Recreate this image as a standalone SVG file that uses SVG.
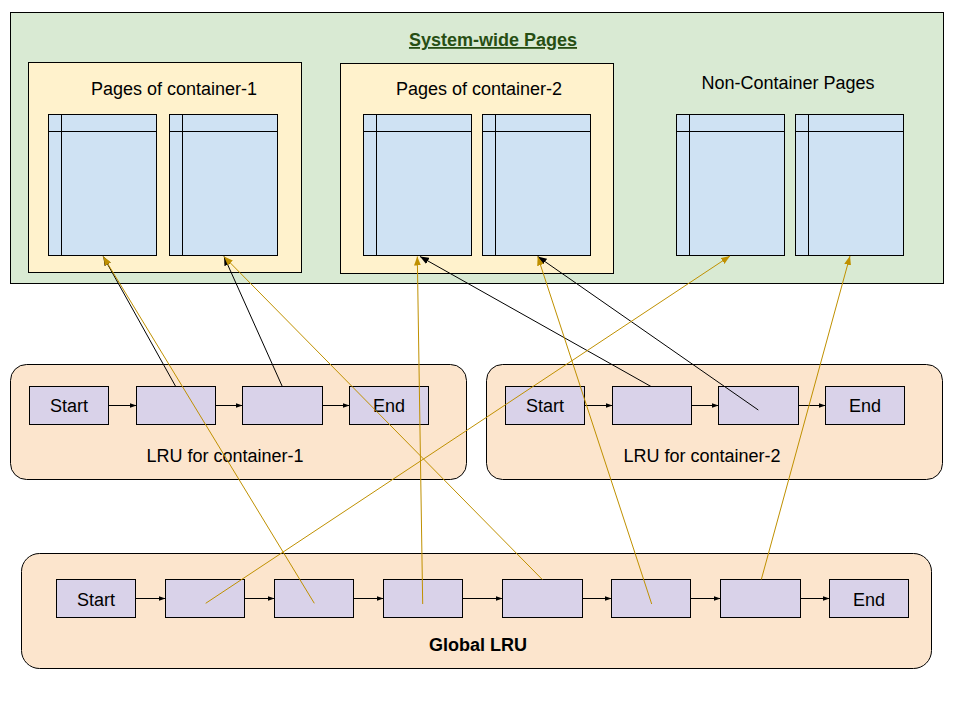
<svg xmlns="http://www.w3.org/2000/svg" width="960" height="720" viewBox="0 0 960 720">
<style>
  text { font-family: "Liberation Sans", Arial, sans-serif; font-size: 18px; fill: #000; }
  .lbl { text-anchor: middle; }
  .title { font-weight: bold; fill: #274e13; text-decoration: underline; text-anchor: middle; }
  .bold { font-weight: bold; text-anchor: middle; }
  .green { fill: #d9ead3; stroke: #000; stroke-width: 1; }
  .yellow { fill: #fff2cc; stroke: #000; stroke-width: 1; }
  .page { fill: #cfe2f3; stroke: #000; stroke-width: 1; }
  .pline { stroke: #000; stroke-width: 1; fill: none; }
  .panel { fill: #fce5cd; stroke: #000; stroke-width: 1; }
  .item { fill: #d9d2e9; stroke: #000; stroke-width: 1; }
  .chain { stroke: #000; stroke-width: 1; fill: none; marker-end: url(#small); }
  .gold { stroke: #bf9000; stroke-width: 1; fill: none; marker-end: url(#goldHead); }
  .blk { stroke: #000; stroke-width: 1; fill: none; marker-end: url(#blackHead); }
</style>
<defs>
  <marker id="small" markerUnits="userSpaceOnUse" markerWidth="7" markerHeight="6" refX="7" refY="3" orient="auto">
    <path d="M0,0.5 L7,3 L0,5.5 z" fill="#000"/>
  </marker>
  <marker id="goldHead" markerUnits="userSpaceOnUse" markerWidth="9" markerHeight="7" refX="9" refY="3.5" orient="auto">
    <path d="M0,0 L9,3.5 L0,7 z" fill="#bf9000"/>
  </marker>
  <marker id="blackHead" markerUnits="userSpaceOnUse" markerWidth="9" markerHeight="7" refX="9" refY="3.5" orient="auto">
    <path d="M0,0 L9,3.5 L0,7 z" fill="#000"/>
  </marker>
</defs>
<rect width="960" height="720" fill="#fff"/>

<g id="system-wide-pages">
  <rect class="green" x="10.5" y="12.5" width="933" height="271"/>
  <text class="title" x="493" y="46">System-wide Pages</text>
</g>

<g id="container-1-pages">
  <rect class="yellow" x="28.5" y="62.5" width="273" height="210"/>
  <text class="lbl" x="174" y="95">Pages of container-1</text>
</g>
<g id="c1-page-1">
  <rect class="page" x="48.5" y="114.5" width="108" height="141"/>
  <path class="pline" d="M61.5,114.5 V255.5 M48.5,131.5 H156.5"/>
</g>
<g id="c1-page-2">
  <rect class="page" x="169.5" y="114.5" width="108" height="141"/>
  <path class="pline" d="M182.5,114.5 V255.5 M169.5,131.5 H277.5"/>
</g>

<g id="container-2-pages">
  <rect class="yellow" x="340.5" y="63.5" width="273" height="210"/>
  <text class="lbl" x="479" y="95">Pages of container-2</text>
</g>
<g id="c2-page-1">
  <rect class="page" x="363.5" y="114.5" width="108" height="141"/>
  <path class="pline" d="M376.5,114.5 V255.5 M363.5,131.5 H471.5"/>
</g>
<g id="c2-page-2">
  <rect class="page" x="482.5" y="114.5" width="108" height="141"/>
  <path class="pline" d="M495.5,114.5 V255.5 M482.5,131.5 H590.5"/>
</g>

<g id="non-container-pages">
  <text class="lbl" x="788" y="89">Non-Container Pages</text>
</g>
<g id="nc-page-1">
  <rect class="page" x="676.5" y="114.5" width="108" height="141"/>
  <path class="pline" d="M689.5,114.5 V255.5 M676.5,131.5 H784.5"/>
</g>
<g id="nc-page-2">
  <rect class="page" x="795.5" y="114.5" width="108" height="141"/>
  <path class="pline" d="M808.5,114.5 V255.5 M795.5,131.5 H903.5"/>
</g>

<g id="lru-container-1">
  <rect class="panel" x="10.5" y="364.5" width="456" height="115" rx="16" ry="16"/>
  <text class="lbl" x="225" y="462">LRU for container-1</text>
</g>
<g id="l1-start"><rect class="item" x="29.5" y="386.5" width="79" height="38"/><text class="lbl" x="69" y="412">Start</text></g>
<g id="l1-n1"><rect class="item" x="136.5" y="386.5" width="79" height="38"/></g>
<g id="l1-n2"><rect class="item" x="242.5" y="386.5" width="80" height="38"/></g>
<g id="l1-end"><rect class="item" x="349.5" y="386.5" width="79" height="38"/><text class="lbl" x="389" y="412">End</text></g>

<g id="lru-container-2">
  <rect class="panel" x="486.5" y="364.5" width="456" height="115" rx="16" ry="16"/>
  <text class="lbl" x="702" y="462">LRU for container-2</text>
</g>
<g id="l2-start"><rect class="item" x="505.5" y="386.5" width="79" height="38"/><text class="lbl" x="545" y="412">Start</text></g>
<g id="l2-n1"><rect class="item" x="612.5" y="386.5" width="79" height="38"/></g>
<g id="l2-n2"><rect class="item" x="718.5" y="386.5" width="80" height="38"/></g>
<g id="l2-end"><rect class="item" x="825.5" y="386.5" width="79" height="38"/><text class="lbl" x="865" y="412">End</text></g>

<g id="global-lru">
  <rect class="panel" x="21.5" y="553.5" width="910" height="115" rx="18" ry="18"/>
  <text class="bold" x="478" y="651">Global LRU</text>
</g>
<g id="g-start"><rect class="item" x="56.5" y="579.5" width="79" height="38"/><text class="lbl" x="96" y="606">Start</text></g>
<g id="g-n1"><rect class="item" x="165.5" y="579.5" width="79" height="38"/></g>
<g id="g-n2"><rect class="item" x="274.5" y="579.5" width="79" height="38"/></g>
<g id="g-n3"><rect class="item" x="383.5" y="579.5" width="79" height="38"/></g>
<g id="g-n4"><rect class="item" x="502.5" y="579.5" width="80" height="38"/></g>
<g id="g-n5"><rect class="item" x="611.5" y="579.5" width="79" height="38"/></g>
<g id="g-n6"><rect class="item" x="720.5" y="579.5" width="80" height="38"/></g>
<g id="g-end"><rect class="item" x="829.5" y="579.5" width="79" height="38"/><text class="lbl" x="869" y="606">End</text></g>

<g id="connectors">
  <path class="chain" d="M108.5,405.5 H136.5"/>
  <path class="chain" d="M215.5,405.5 H242.5"/>
  <path class="chain" d="M322.5,405.5 H349.5"/>
  <path class="chain" d="M584.5,405.5 H612.5"/>
  <path class="chain" d="M691.5,405.5 H718.5"/>
  <path class="chain" d="M798.5,405.5 H825.5"/>
  <path class="chain" d="M135.5,598.5 H165.5"/>
  <path class="chain" d="M244.5,598.5 H274.5"/>
  <path class="chain" d="M353.5,598.5 H383.5"/>
  <path class="chain" d="M462.5,598.5 H502.5"/>
  <path class="chain" d="M582.5,598.5 H611.5"/>
  <path class="chain" d="M690.5,598.5 H720.5"/>
  <path class="chain" d="M800.5,598.5 H829.5"/>

  <path class="blk" d="M175.7,386.5 L103.3,256.5"/>
  <path class="blk" d="M282.3,386.5 L224,256.5"/>
  <path class="blk" d="M651,386.5 L420,256.5"/>
  <path class="blk" d="M758.3,410 L537.7,256.5"/>

  <path class="gold" d="M314.3,603.3 L103.3,256.5"/>
  <path class="gold" d="M542.3,579.5 L224,256.5"/>
  <path class="gold" d="M205.7,603.3 L730,256"/>
  <path class="gold" d="M422.7,604 L417.3,256.5"/>
  <path class="gold" d="M651.7,604 L537.7,256.5"/>
  <path class="gold" d="M761.3,579.5 L850,256"/>
</g>
</svg>
